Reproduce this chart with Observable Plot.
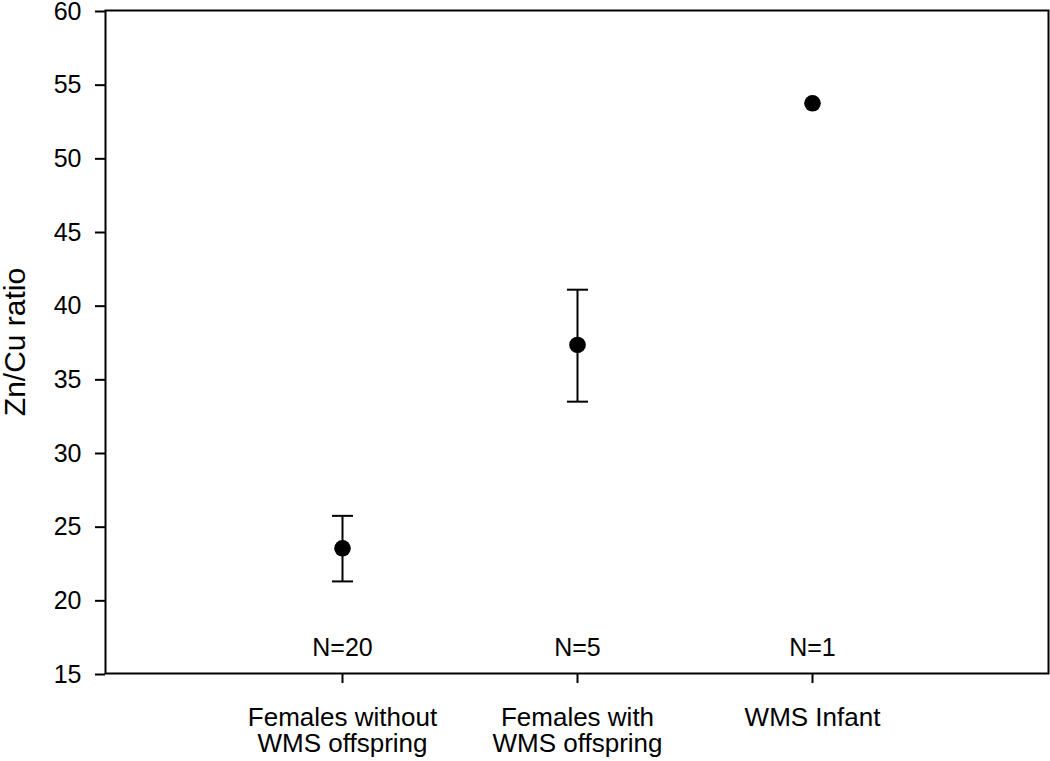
<!DOCTYPE html>
<html>
<head>
<meta charset="utf-8">
<script src="https://cdn.jsdelivr.net/npm/d3@7"></script>
<script src="https://cdn.jsdelivr.net/npm/@observablehq/plot@0.6"></script>
<style>
  html, body { margin: 0; padding: 0; background: #fff; }
  #chart svg { display: block; }
</style>
</head>
<body>
<div id="chart"></div>
<script>
const categories = ["Females without WMS offspring", "Females with WMS offspring", "WMS Infant"];
const tickLabels = ["Females without\nWMS offspring", "Females with\nWMS offspring", "WMS Infant"];
const means = [23.5, 37.3, 53.7];
const upper = [25.7, 41.05, null];
const lower = [21.25, 33.45, null];
const nLabels = ["N=20", "N=5", "N=1"];
const yTicks = [15, 20, 25, 30, 35, 40, 45, 50, 55, 60];
const yTitle = "Zn/Cu ratio";

const rows = categories.map((c, i) => ({cat: c, mean: means[i], hi: upper[i], lo: lower[i], n: nLabels[i]}));
const errRows = rows.filter(d => d.hi != null);
const caps = errRows.flatMap(d => [{cat: d.cat, v: d.hi}, {cat: d.cat, v: d.lo}]);

// horizontal cap symbol for error bars
const capSymbol = {draw(context) { context.moveTo(-10.5, 0); context.lineTo(10.5, 0); }};

const chart = Plot.plot({
  width: 1050,
  height: 761,
  marginLeft: 105,
  marginRight: 2,
  marginTop: 10,
  marginBottom: 88,
  style: {fontFamily: "'Liberation Sans', Arial, sans-serif", color: "#000", background: "#fff"},
  x: {type: "point", domain: categories, padding: 1},
  y: {domain: [15, 60]},
  marks: [
    Plot.frame({stroke: "#000", strokeWidth: 2}),
    Plot.axisY({ticks: yTicks, tickSize: 10, tickPadding: 14, fontSize: 25, strokeWidth: 2, dy: 1, label: null}),
    Plot.axisX({tickSize: 10, tickPadding: 24, fontSize: 26, lineHeight: 1, strokeWidth: 2,
      tickFormat: d => tickLabels[categories.indexOf(d)], label: null}),
    Plot.ruleX(errRows, {x: "cat", y1: "lo", y2: "hi", stroke: "#000", strokeWidth: 2}),
    Plot.dot(caps, {x: "cat", y: "v", symbol: capSymbol, r: 5, stroke: "#000", strokeWidth: 2, fill: "none"}),
    Plot.dot(rows, {x: "cat", y: "mean", r: 8.3, fill: "#000", stroke: null}),
    Plot.text(rows, {x: "cat", y: () => 15, text: "n", fontSize: 25, lineAnchor: "bottom", dy: -18, fill: "#000"}),
    Plot.text([yTitle], {frameAnchor: "left", text: d => d, rotate: -90, fontSize: 30, lineAnchor: "middle", textAnchor: "middle", dx: -90.6, fill: "#000"})
  ]
});
document.getElementById("chart").appendChild(chart);
</script>
</body>
</html>
